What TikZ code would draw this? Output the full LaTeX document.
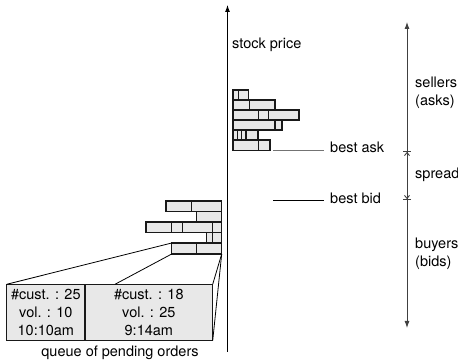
\documentclass[tikz,border=0pt]{standalone}
\usepackage{fontspec}
\setmainfont{TeX Gyre Heros}
\usetikzlibrary{arrows.meta,calc}

\tikzset{
  brick/.style={draw=black!90, fill=black!9, line width=1.3pt, inner sep=0pt,
    outer sep=0pt, anchor=north west},
  qbox/.style={draw=black!90, fill=black!9, line width=1.1pt, inner sep=0pt,
    outer sep=0pt, anchor=north west, align=center},
  lbl/.style={inner sep=0pt, anchor=base west},
  fan/.style={line width=0.8pt, black},
  scaleaxis/.style={line width=0.9pt, black!75},
}

% one order brick: name, left, right, top, bottom (in px)
\newcommand{\brick}[5]{%
  \node[brick, minimum width={(#3-#2)*1pt}, minimum height={(#5-#4)*1pt}]
    (#1) at (#2,#4) {};}

\begin{document}
\begin{tikzpicture}[x=1pt, y=-1pt,
  every node/.style={font=\fontsize{14.5}{18}\selectfont}]
\useasboundingbox (0,0) rectangle (458,363);

% price axis
\coordinate (axbot) at (227.5,352);
\coordinate (axtop) at (227.5,5);
\draw[line width=0.9pt, -{Latex[length=7pt,width=5pt]}] (axbot) -- (axtop);
\node[lbl] (sp) at (232,49) {stock price};

% asks (sellers)
\brick{a11}{233}{238.3}{90}{100}
\brick{a12}{238.3}{248.7}{90}{100}
\brick{a21}{233}{249.7}{100}{110}
\brick{a22}{249.7}{275}{100}{110}
\brick{a31}{233}{258.3}{110}{120}
\brick{a32}{258.3}{268.7}{110}{120}
\brick{a33}{268.7}{299}{110}{120}
\brick{a41}{233}{275}{120}{130}
\brick{a42}{275}{282}{120}{130}
\brick{a51}{233}{237.3}{130}{140}
\brick{a52}{237.3}{241.7}{130}{140}
\brick{a53}{241.7}{246}{130}{140}
\brick{a54}{246}{258}{130}{140}
\brick{a61}{233}{258.3}{140}{150.5}
\brick{a62}{258.3}{270}{140}{150.5}

% bids (buyers)
\brick{b11}{166}{191.7}{201}{211.5}
\brick{b12}{191.7}{221.7}{201}{211.5}
\brick{b21}{196.7}{221.7}{211.5}{222}
\brick{b31}{146}{171.7}{222}{232.5}
\brick{b32}{171.7}{182.7}{222}{232.5}
\brick{b33}{182.7}{212.7}{222}{232.5}
\brick{b34}{212.7}{221.7}{222}{232.5}
\brick{b41}{206.7}{212.7}{232.5}{243}
\brick{b42}{212.7}{221.7}{232.5}{243}
\brick{b51}{171.7}{196.7}{243}{254}
\brick{b52}{196.7}{221.7}{243}{254}

% best ask / best bid markers
\coordinate (askl) at (273,151);
\coordinate (askr) at (324,151);
\coordinate (bidl) at (273,200);
\coordinate (bidr) at (324,200);
\draw[line width=1pt, black!55] (askl) -- (askr);
\draw[line width=0.9pt] (bidl) -- (bidr);
\node[lbl] (ba) at (330,153) {best ask};
\node[lbl] (bb) at (330,204) {best bid};

% queue of pending orders (detail of one price level)
\node[qbox, minimum width=78.3pt, minimum height=56.4pt] (qa) at (6.7,284.3)
  {\#cust. : 25\\vol. : 10\\10:10am};
\node[qbox, minimum width=127.7pt, minimum height=56.4pt] (qb) at (85,284.3)
  {\#cust. : 18\\vol. : 25\\9:14am};
\node[inner sep=0pt, anchor=base] (ql) at (120,357) {queue of pending orders};

\draw[fan] (b51.north west) -- (qa.north west);
\draw[fan] (b51.south west) -- ($(qb.north west)!0.235!(qb.north east)$);
\draw[fan] (b52.south east) -- (qb.north east);
\draw[fan] (b52.south east) -- (qb.south east);

% side scale: sellers / spread / buyers
\coordinate (stop) at (407,22);
\coordinate (sask) at (407,151);
\coordinate (sbid) at (407,200);
\coordinate (sbot) at (407,328);
\draw[scaleaxis, -{Latex[length=7pt,width=5pt]}] (sask) -- (stop);
\draw[scaleaxis, -{Latex[length=7pt,width=5pt]}] (sbid) -- (sbot);
\draw[scaleaxis,
  {Bar[width=8pt]Straight Barb[length=3pt,width=5pt]}-{Straight Barb[length=3pt,width=5pt]Bar[width=8pt]}]
  (sask) -- (sbid);
\node[lbl] (sl1) at (415,88) {sellers};
\node[lbl] (sl2) at (415,106) {(asks)};
\node[lbl] (spr) at (415,179) {spread};
\node[lbl] (by1) at (415,249) {buyers};
\node[lbl] (by2) at (415,267) {(bids)};
\end{tikzpicture}
\end{document}
